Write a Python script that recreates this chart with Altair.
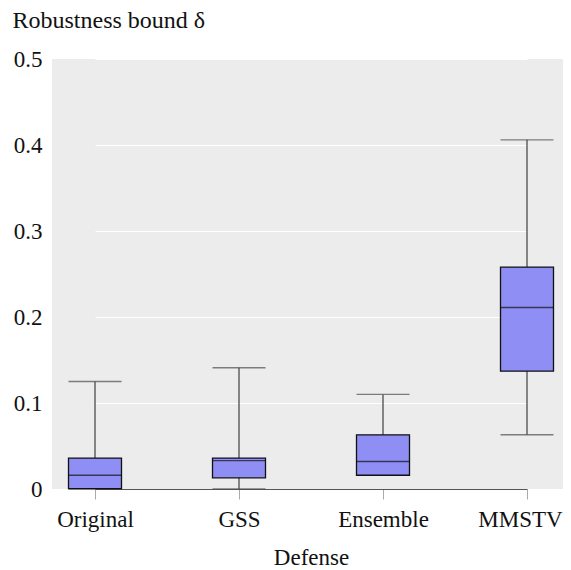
import altair as alt
import pandas as pd

defenses = ["Original", "GSS", "Ensemble", "MMSTV"]
whisker_low = [0.0, 0.0, 0.016, 0.063]
q1 = [0.0005, 0.013, 0.016, 0.137]
median = [0.016, 0.033, 0.032, 0.211]
q3 = [0.036, 0.036, 0.063, 0.258]
whisker_high = [0.125, 0.141, 0.110, 0.406]

df = pd.DataFrame({
    "defense": defenses,
    "lo": whisker_low,
    "q1": q1,
    "med": median,
    "q3": q3,
    "hi": whisker_high,
})

FONT = "Liberation Serif"
BOXW = 53

xscale = alt.Scale(type="point", padding=0, range=[43, 475])
xaxis = alt.Axis(labelAngle=0, titlePadding=15, labelPadding=9,
                 tickSize=10, tickColor="#aaaaaa", domainColor="#555555",
                 domainWidth=1.2, grid=False,
                 labelOffset={"condition": {"test": "datum.value === 'MMSTV'", "value": -7}, "value": 0})
x = alt.X("defense:N", sort=defenses, title="Defense", scale=xscale, axis=xaxis)

yscale = alt.Scale(domain=[0, 0.5], nice=False)
yaxis = alt.Axis(values=[0, 0.1, 0.2, 0.3, 0.4, 0.5],
                 labelExpr="datum.value == 0 ? '0' : format(datum.value, '.1f')",
                 labelPadding=10, ticks=False, domain=False, grid=True,
                 gridColor="#ffffff", gridWidth=1,
                 titleAngle=0, titleX=-40, titleY=-32, titleFontSize=24,
                 titleAlign="left", titleBaseline="alphabetic")
YT = "Robustness bound δ"

base = alt.Chart(df)

whisk = base.mark_rule(color="#4d4d4d", strokeWidth=1.3).encode(
    x=x, y=alt.Y("lo:Q", scale=yscale, axis=yaxis, title=YT), y2="hi:Q")
cap_lo = base.mark_tick(color="#4d4d4d", size=BOXW, thickness=1.4).encode(
    x=x, y=alt.Y("lo:Q", scale=yscale, axis=yaxis, title=YT))
cap_hi = base.mark_tick(color="#4d4d4d", size=BOXW, thickness=1.4).encode(
    x=x, y=alt.Y("hi:Q", scale=yscale, axis=yaxis, title=YT))
box = base.mark_bar(size=BOXW, color="#8e8ef4", stroke="#111111", strokeWidth=1.3).encode(
    x=x, y=alt.Y("q1:Q", scale=yscale, axis=yaxis, title=YT), y2="q3:Q")
med = base.mark_tick(color="#111111", size=BOXW, thickness=1.4).encode(
    x=x, y=alt.Y("med:Q", scale=yscale, axis=yaxis, title=YT))

chart = alt.layer(whisk, cap_lo, cap_hi, box, med).properties(
    width=511, height=430,
    autosize=alt.AutoSizeParams(type="none"),
    padding={"left": 44, "top": 51, "right": 0, "bottom": 80},
).configure_view(fill="#ececec", stroke=None).configure_axis(
    labelFont=FONT, labelFontSize=23, labelColor="#111111",
    titleFont=FONT, titleFontSize=23, titleFontWeight="normal", titleColor="#111111",
)

chart.save("out.html", embed_options={"renderer": "svg", "actions": False})
